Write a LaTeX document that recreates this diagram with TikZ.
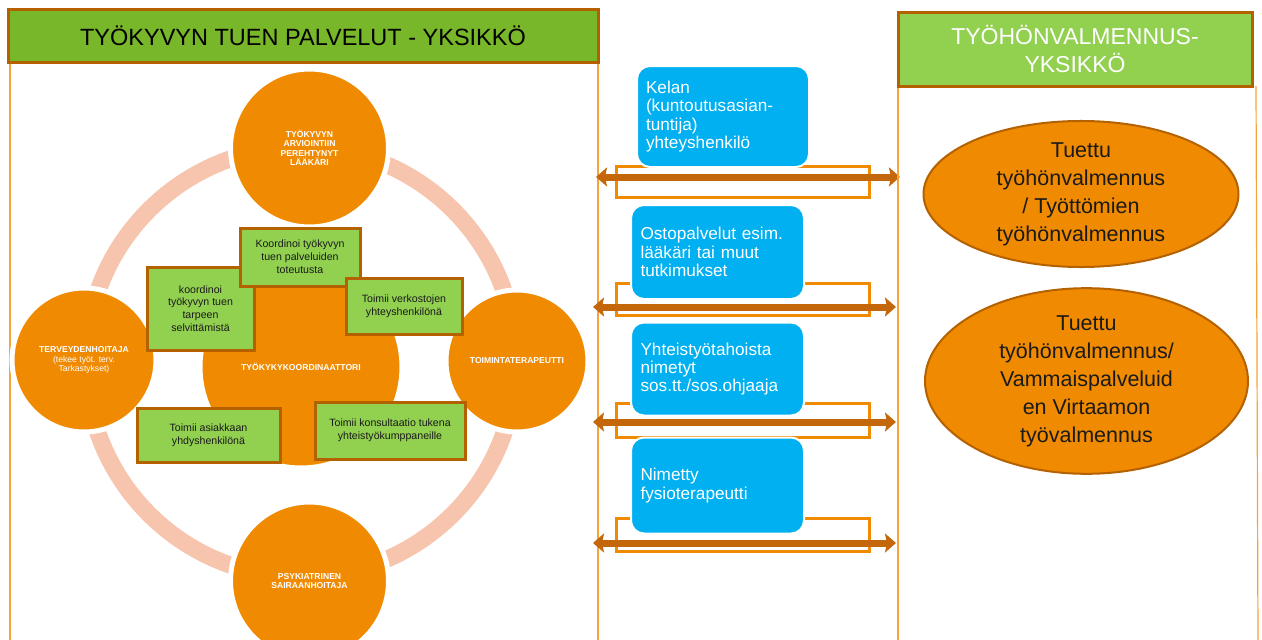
\documentclass[tikz,border=0pt]{standalone}
\usepackage{fontspec}
\setmainfont{Liberation Sans}
\usetikzlibrary{arrows.meta,shapes.geometric}

\definecolor{hdrgreen}{HTML}{78B62A}
\definecolor{boxgreen}{HTML}{92D050}
\definecolor{brownedge}{HTML}{B46100}
\definecolor{orangefill}{HTML}{F08A00}
\definecolor{ringpink}{HTML}{F7C4AE}
\definecolor{skyblue}{HTML}{00B0F0}
\definecolor{panelline}{HTML}{F5A33A}
\definecolor{linkbrown}{HTML}{C4660A}
\definecolor{inktext}{HTML}{1A1A1A}

\begin{document}
\begin{tikzpicture}[x=1pt,y=-1pt,
  header/.style={draw=brownedge, line width=3pt, fill=hdrgreen, inner sep=0pt,
    align=center, font=\fontsize{23.5}{28}\selectfont},
  panel/.style={draw=panelline, line width=1.2pt},
  role/.style={circle, fill=orangefill, draw=white, line width=5pt, inner sep=0pt,
    text=white, align=center, font=\fontsize{8.6}{9.4}\selectfont\bfseries},
  task/.style={draw=brownedge, line width=3pt, fill=boxgreen, inner sep=2pt,
    align=center, text=inktext, font=\fontsize{10.6}{12.8}\selectfont},
  agent/.style={rounded corners=13pt, fill=skyblue, draw=white, line width=2pt,
    text=white, align=left, inner sep=0pt, font=\fontsize{17.2}{18.3}\selectfont},
  bracket/.style={draw=orangefill, line width=3pt, inner sep=0pt},
  link/.style={draw=linkbrown, line width=7pt,
    {Stealth[length=11pt,width=19pt,inset=2pt]}-{Stealth[length=11pt,width=19pt,inset=2pt]}},
  goal/.style={ellipse, fill=orangefill, draw=brownedge, line width=2pt, inner sep=0pt,
    align=center, text=inktext, font=\fontsize{21.5}{28}\selectfont}]

\useasboundingbox (0,0) rectangle (1262,640);
\clip (0,0) rectangle (1262,640);

% ---------- left unit ----------
\coordinate (lpTL) at (10,62);   \coordinate (lpBL) at (10,640);
\coordinate (lpTR) at (598,62);  \coordinate (lpBR) at (598,640);
\draw[panel] (lpTL) -- (lpBL);
\draw[panel] (lpTR) -- (lpBR);

\node[header, minimum width=590pt, minimum height=53pt] (lhead) at (303,35.5)
  {TYÖKYVYN TUEN PALVELUT - YKSIKKÖ};

% ring connecting the professionals
\node[draw=ringpink, line width=17pt, circle, minimum size=430pt, inner sep=0pt] (ring) at (301,362) {};

\node[role, minimum size=158pt] (doctor) at (309.5,148)
  {TYÖKYVYN\\ARVIOINTIIN\\PEREHTYNYT\\LÄÄKÄRI};
\node[role, minimum size=144pt] (nurse) at (84,360)
  {TERVEYDENHOITAJA\\{\mdseries (tekee työt. terv.}\\{\mdseries Tarkastykset)}};
\node[role, minimum size=142pt] (ot) at (517,361) {TOIMINTATERAPEUTTI};
\node[role, minimum size=158pt] (psy) at (309.5,581)
  {PSYKIATRINEN\\SAIRAANHOITAJA};
\node[role, minimum size=202pt] (coord) at (301,367) {TYÖKYKYKOORDINAATTORI};

% tasks of the coordinator
\node[task, minimum width=107pt, minimum height=83pt] (t2) at (200.5,308.5)
  {koordinoi\\työkyvyn tuen\\tarpeen\\selvittämistä};
\node[task, minimum width=120pt, minimum height=58pt] (t1) at (300,257)
  {Koordinoi työkyvyn\\tuen palveluiden\\toteutusta};
\node[task, minimum width=116pt, minimum height=56pt] (t3) at (404,306)
  {Toimii verkostojen\\yhteyshenkilönä};
\node[task, minimum width=143pt, minimum height=54pt] (t4) at (208.5,435)
  {Toimii asiakkaan\\yhdyshenkilönä};
\node[task, minimum width=150pt, minimum height=57pt] (t5) at (390,430.5)
  {Toimii konsultaatio tukena\\yhteistyökumppaneille};

% ---------- middle: contact persons ----------
\node[bracket, minimum width=253pt, minimum height=31pt] (b1) at (742.5,181.5) {};
\node[bracket, minimum width=253pt, minimum height=32pt] (b2) at (742.5,299) {};
\node[bracket, minimum width=253pt, minimum height=34pt] (b3) at (742.5,420) {};
\node[bracket, minimum width=253pt, minimum height=33pt] (b4) at (742.5,534.5) {};

\node[agent, minimum width=172pt, minimum height=101pt, text width=154pt] (a1) at (723,116.5)
  {Kelan\\(kuntoutusasian-\\tuntija)\\yhteyshenkilö};
\node[agent, minimum width=173pt, minimum height=94pt, text width=154pt] (a2) at (717.5,252)
  {Ostopalvelut esim.\\lääkäri tai muut\\tutkimukset};
\node[agent, minimum width=173pt, minimum height=93pt, text width=154pt] (a3) at (717.5,369)
  {Yhteistyötahoista\\nimetyt\\sos.tt./sos.ohjaaja};
\node[agent, minimum width=173pt, minimum height=96pt, text width=154pt] (a4) at (717.5,485.5)
  {Nimetty\\fysioterapeutti};

\coordinate (l1) at (596,177);  \coordinate (r1) at (900,177);
\coordinate (l2) at (593,307);  \coordinate (r2) at (896,307);
\coordinate (l3) at (593,422);  \coordinate (r3) at (896,422);
\coordinate (l4) at (593,543);  \coordinate (r4) at (896,543);
\draw[link] (l1) -- (r1);
\draw[link] (l2) -- (r2);
\draw[link] (l3) -- (r3);
\draw[link] (l4) -- (r4);

% ---------- right unit ----------
\coordinate (rpTL) at (898,86);   \coordinate (rpBL) at (898,640);
\coordinate (rpTR) at (1256,86);  \coordinate (rpBR) at (1258,640);
\draw[panel] (rpTL) -- (rpBL);
\draw[panel] (rpTR) -- (rpBR);

\node[header, fill=boxgreen, text=white, font=\fontsize{23}{28}\selectfont,
  minimum width=354pt, minimum height=74pt] (rhead) at (1075,49)
  {TYÖHÖNVALMENNUS-\\YKSIKKÖ};

\node[goal, minimum width=315pt, minimum height=137pt] (g1) at (1081,194)
  {Tuettu\\työhönvalmennus\\/ Työttömien\\työhönvalmennus};
\node[goal, minimum width=323pt, minimum height=162pt] (g2) at (1086.5,381)
  {Tuettu\\työhönvalmennus/\\Vammaispalveluid\\en Virtaamon\\työvalmennus};

\end{tikzpicture}
\end{document}
